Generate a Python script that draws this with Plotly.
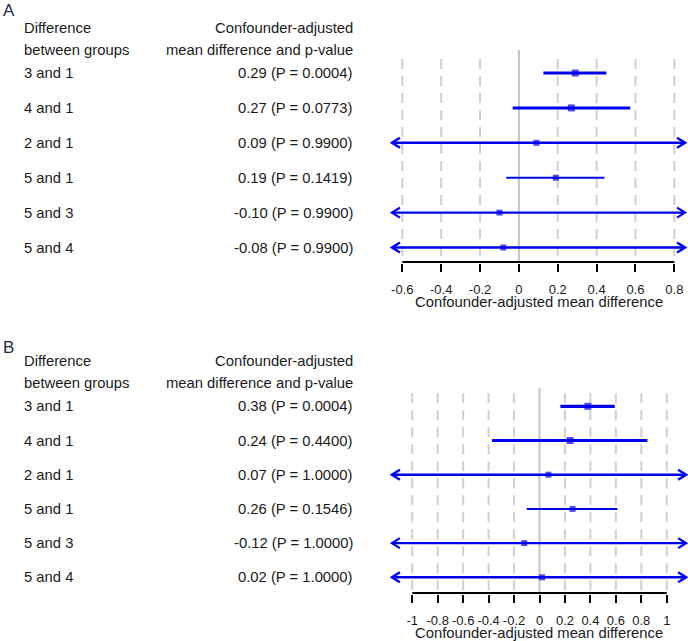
import plotly.graph_objects as go

W, H = 688, 641

# ---- data ----
groups = ["3 and 1", "4 and 1", "2 and 1", "5 and 1", "5 and 3", "5 and 4"]

est_a = [0.29, 0.27, 0.09, 0.19, -0.10, -0.08]
lo_a = [0.126, -0.032, None, -0.065, None, None]   # None = beyond the axis
hi_a = [0.45, 0.573, None, 0.44, None, None]
p_a = ["0.0004", "0.0773", "0.9900", "0.1419", "0.9900", "0.9900"]
ticks_a = [-0.6, -0.4, -0.2, 0, 0.2, 0.4, 0.6, 0.8]
ticktext_a = ["-0.6", "-0.4", "-0.2", "0", "0.2", "0.4", "0.6", "0.8"]

est_b = [0.38, 0.24, 0.07, 0.26, -0.12, 0.02]
lo_b = [0.164, -0.373, None, -0.10, None, None]
hi_b = [0.591, 0.848, None, 0.612, None, None]
p_b = ["0.0004", "0.4400", "1.0000", "0.1546", "1.0000", "1.0000"]
ticks_b = [-1, -0.8, -0.6, -0.4, -0.2, 0, 0.2, 0.4, 0.6, 0.8, 1]
ticktext_b = ["-1", "-0.8", "-0.6", "-0.4", "-0.2", "0", "0.2", "0.4", "0.6", "0.8", "1"]

lwd = [3.2, 3, 2.5, 2, 2.2, 2.5]
box = [7, 7, 6, 6, 6, 6]

BLUE = "#0000ee"
TXT = "#1a1a1a"
FONT = "Liberation Sans, Arial, sans-serif"


def px(p):
    return p / W


def py(p):
    return 1 - p / H


def panel(fig, n, est, lo, hi, pv, ticks, ticktext, clip, xr, row0, rowh, top, axis_px, grid_px, label, label_px):
    xa = "x" if n == 1 else "x%d" % n
    ya = "y" if n == 1 else "y%d" % n
    ybot = (axis_px - row0) / rowh
    ytop = (top - row0) / rowh
    gtop = (grid_px - row0) / rowh
    left_px, right_px = 390.0, 688.0
    unit = (right_px - left_px) / (xr[1] - xr[0])

    # grid
    for t in ticks:
        fig.add_trace(go.Scatter(
            x=[t, t], y=[ytop if t == 0 else gtop, ybot], mode="lines",
            line=dict(color="#c4c4c4" if t == 0 else "#d0d0d0", width=2,
                      dash="solid" if t == 0 else "10px,7px"),
            xaxis=xa, yaxis=ya, hoverinfo="skip", showlegend=False))

    # axis line
    fig.add_trace(go.Scatter(
        x=[ticks[0], ticks[-1]], y=[ybot - 1.0 / rowh] * 2, mode="lines",
        line=dict(color="black", width=2), xaxis=xa, yaxis=ya,
        hoverinfo="skip", showlegend=False))

    # intervals + arrowheads
    ax_dx = 8.0 / unit
    ax_dy = 5.0 / rowh
    for i in range(len(est)):
        l = clip[0] if lo[i] is None else lo[i]
        h = clip[1] if hi[i] is None else hi[i]
        fig.add_trace(go.Scatter(
            x=[l, h], y=[i, i], mode="lines",
            line=dict(color=BLUE, width=lwd[i]), xaxis=xa, yaxis=ya,
            hoverinfo="skip", showlegend=False))
        if lo[i] is None:
            fig.add_trace(go.Scatter(
                x=[l + ax_dx, l, l + ax_dx], y=[i - ax_dy, i, i + ax_dy], mode="lines",
                line=dict(color=BLUE, width=lwd[i]), xaxis=xa, yaxis=ya,
                hoverinfo="skip", showlegend=False))
        if hi[i] is None:
            fig.add_trace(go.Scatter(
                x=[h - ax_dx, h, h - ax_dx], y=[i - ax_dy, i, i + ax_dy], mode="lines",
                line=dict(color=BLUE, width=lwd[i]), xaxis=xa, yaxis=ya,
                hoverinfo="skip", showlegend=False))
    fig.add_trace(go.Scatter(
        x=est, y=list(range(len(est))), mode="markers",
        marker=dict(symbol="square", size=box, color=BLUE, line=dict(width=0)),
        xaxis=xa, yaxis=ya, hoverinfo="skip", showlegend=False))

    fig.layout[("xaxis" if n == 1 else "xaxis%d" % n)] = dict(
        domain=[px(left_px), px(right_px)], range=xr, showgrid=False, zeroline=False,
        showline=False, tickmode="array", tickvals=ticks, ticktext=ticktext,
        ticks="outside", ticklen=8, tickwidth=2, tickcolor="black",
        tickfont=dict(size=13, color=TXT, family=FONT), ticklabelstandoff=6,
        anchor=ya, fixedrange=True)
    fig.layout[("yaxis" if n == 1 else "yaxis%d" % n)] = dict(
        domain=[py(axis_px), py(top)], range=[ybot, ytop], visible=False,
        anchor=xa, fixedrange=True)

    # text columns
    for i, g in enumerate(groups):
        fig.add_annotation(x=px(22), xref="paper", y=i, yref=ya, text=g,
                           xanchor="left", yanchor="middle", showarrow=False)
        fig.add_annotation(x=px(355), xref="paper", y=i, yref=ya,
                           text="%.2f (P = %s)" % (est[i], pv[i]),
                           xanchor="right", yanchor="middle", showarrow=False)
    h1 = row0 - 45
    h2 = row0 - 23
    fig.add_annotation(x=px(22), xref="paper", y=py(h1), yref="paper", text="Difference",
                       xanchor="left", yanchor="middle", showarrow=False)
    fig.add_annotation(x=px(22), xref="paper", y=py(h2), yref="paper", text="between groups",
                       xanchor="left", yanchor="middle", showarrow=False)
    fig.add_annotation(x=px(355), xref="paper", y=py(h1), yref="paper", text="Confounder-adjusted",
                       xanchor="right", yanchor="middle", showarrow=False)
    fig.add_annotation(x=px(355), xref="paper", y=py(h2), yref="paper",
                       text="mean difference and p-value",
                       xanchor="right", yanchor="middle", showarrow=False)
    fig.add_annotation(x=px(539), xref="paper", y=py(axis_px + 39), yref="paper",
                       text="Confounder-adjusted mean difference",
                       xanchor="center", yanchor="middle", showarrow=False)
    fig.add_annotation(x=px(2), xref="paper", y=py(label_px), yref="paper", text=label,
                       xanchor="left", yanchor="top", showarrow=False, borderpad=0,
                       font=dict(size=17, color="#1c2b52", family=FONT))


fig = go.Figure()
panel(fig, 1, est_a, lo_a, hi_a, p_a, ticks_a, ticktext_a,
      clip=[-0.653, 0.855], xr=[-0.6634, 0.8703],
      row0=73.0, rowh=34.9, top=50.0, axis_px=263.0, grid_px=59.0, label="A", label_px=0)
panel(fig, 2, est_b, lo_b, hi_b, p_b, ticks_b, ticktext_b,
      clip=[-1.16, 1.152], xr=[-1.175, 1.167],
      row0=406.3, rowh=34.2, top=388.0, axis_px=594.0, grid_px=393.3, label="B", label_px=337)

fig.update_layout(
    width=W, height=H, margin=dict(l=0, r=0, t=0, b=0),
    paper_bgcolor="white", plot_bgcolor="white",
    font=dict(family=FONT, size=14.8, color=TXT),
    showlegend=False,
)

# drop the page's default 8px body margin so the figure fills the window
fig.write_html("out.html", config={"displayModeBar": False},
               post_script="document.body.style.margin = '0px';")
